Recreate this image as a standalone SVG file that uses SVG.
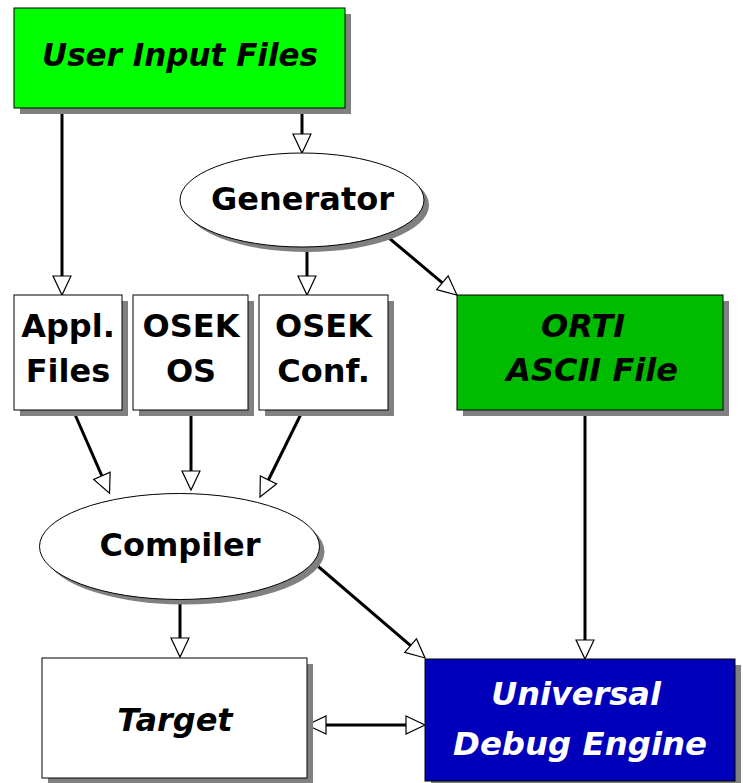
<svg xmlns="http://www.w3.org/2000/svg" width="743" height="783" viewBox="0 0 743 783">
<style>
.box{stroke:#000;stroke-width:1}
.sh{fill:#808080}
.t{font-family:"DejaVu Sans","Liberation Sans",sans-serif;font-weight:bold;font-size:32px;text-anchor:middle;fill:#000}
.i{font-style:italic}
.w{fill:#fff}
.c{fill:none;stroke:#000;stroke-width:3;marker-end:url(#ah)}
</style>
<defs>
<marker id="ah" markerUnits="userSpaceOnUse" viewBox="-1 -1 21 20" markerWidth="21" markerHeight="20" refX="0" refY="9" orient="auto-start-reverse" overflow="visible">
<path d="M0,0 L19,9 L0,18 Z" fill="#fff" stroke="#000" stroke-width="1.2"/>
</marker>
</defs>
<rect width="743" height="783" fill="#fff"/>
<g id="connectors">
<path class="c" d="M62,108 V276"/>
<path class="c" d="M302,108 V134"/>
<path class="c" d="M307,246 V276"/>
<path class="c" d="M383,233 L442.4,282.8"/>
<path class="c" d="M73,410 L101.9,475.8"/>
<path class="c" d="M191,410 V471"/>
<path class="c" d="M303,410 L268.4,480"/>
<path class="c" d="M585,410 V640"/>
<path class="c" d="M180,600 V638"/>
<path class="c" d="M313,562 L410.6,645.6"/>
<path class="c" d="M326,725 H406" style="marker-start:url(#ah)"/>
</g>
<g id="user-input-files">
<rect class="sh" x="20" y="14" width="331" height="100"/>
<rect class="box" x="14" y="8" width="331" height="100" fill="#00ff00"/>
<text class="t i" x="180" y="66" textLength="276" lengthAdjust="spacingAndGlyphs">User Input Files</text>
</g>
<g id="generator">
<ellipse class="sh" cx="307" cy="205" rx="122" ry="47"/>
<ellipse class="box" cx="302" cy="200" rx="122" ry="47" fill="#fff"/>
<text class="t" x="302.5" y="210">Generator</text>
</g>
<g id="appl-files">
<rect class="sh" x="20" y="301" width="108" height="115"/>
<rect class="box" x="14" y="295" width="108" height="115" fill="#fff"/>
<text class="t" x="68" y="337">Appl.</text>
<text class="t" x="68" y="382">Files</text>
</g>
<g id="osek-os">
<rect class="sh" x="139" y="301" width="115" height="115"/>
<rect class="box" x="133" y="295" width="115" height="115" fill="#fff"/>
<text class="t" x="191" y="337">OSEK</text>
<text class="t" x="191" y="382">OS</text>
</g>
<g id="osek-conf">
<rect class="sh" x="265" y="301" width="129" height="115"/>
<rect class="box" x="259" y="295" width="129" height="115" fill="#fff"/>
<text class="t" x="323.5" y="337">OSEK</text>
<text class="t" x="323.5" y="382">Conf.</text>
</g>
<g id="orti">
<rect class="sh" x="463" y="301" width="266" height="115"/>
<rect class="box" x="457" y="295" width="266" height="115" fill="#00bb00"/>
<text class="t i" x="583" y="337">ORTI</text>
<text class="t i" x="592" y="381">ASCII File</text>
</g>
<g id="compiler">
<ellipse class="sh" cx="184.5" cy="551.5" rx="140" ry="53"/>
<ellipse class="box" cx="179.5" cy="546.5" rx="140" ry="53" fill="#fff"/>
<text class="t" x="180" y="556">Compiler</text>
</g>
<g id="target">
<rect class="sh" x="48" y="664" width="265" height="120"/>
<rect class="box" x="42" y="658" width="265" height="120" fill="#fff"/>
<text class="t i" x="175" y="731">Target</text>
</g>
<g id="ude">
<rect class="sh" x="431" y="665" width="310" height="122"/>
<rect class="box" x="425" y="659" width="310" height="122" fill="#0000bb"/>
<text class="t i w" x="576" y="705">Universal</text>
<text class="t i w" x="580" y="755" textLength="254" lengthAdjust="spacingAndGlyphs">Debug Engine</text>
</g>
</svg>
